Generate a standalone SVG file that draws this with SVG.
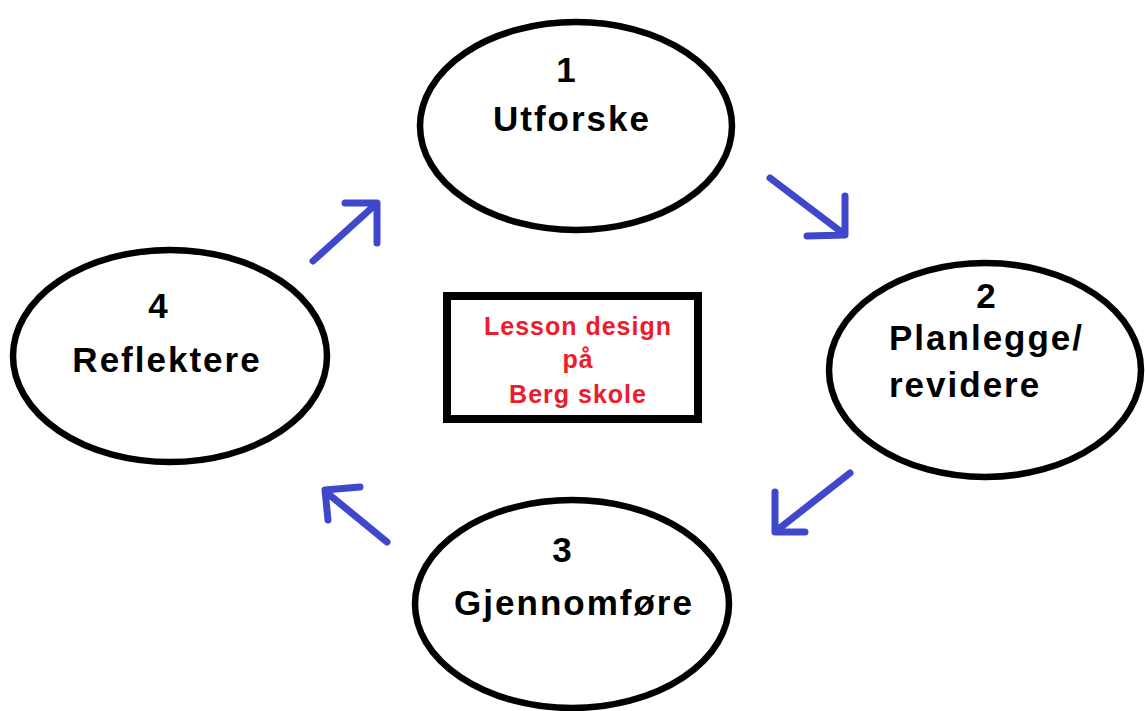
<svg xmlns="http://www.w3.org/2000/svg" width="1145" height="711" viewBox="0 0 1145 711">
<style>
.node{fill:#fff;stroke:#000;stroke-width:6.5}
.t{font-family:"Liberation Sans",Arial,sans-serif;font-weight:bold;font-size:35px;letter-spacing:2px;fill:#000}
.r{font-family:"Liberation Sans",Arial,sans-serif;font-weight:bold;font-size:25px;letter-spacing:1px;fill:#ec1c2c;text-anchor:middle}
.c{text-anchor:middle}
.a{fill:none;stroke:#3f48cc;stroke-width:7;stroke-linecap:round;stroke-linejoin:round}
</style>
<rect width="1145" height="711" fill="#fff"/>
<g id="node1">
<ellipse class="node" cx="576" cy="126" rx="156" ry="104"/>
<text class="t c" x="567" y="82">1</text>
<text class="t c" x="572" y="131">Utforske</text>
</g>
<g id="node2">
<ellipse class="node" cx="985" cy="370" rx="156" ry="107"/>
<text class="t c" x="987" y="308">2</text>
<text class="t" x="889" y="350">Planlegge/</text>
<text class="t" x="889" y="397">revidere</text>
</g>
<g id="node3">
<ellipse class="node" cx="572" cy="604" rx="157" ry="104"/>
<text class="t c" x="563" y="562">3</text>
<text class="t c" x="574" y="615">Gjennomføre</text>
</g>
<g id="node4">
<ellipse class="node" cx="170" cy="356" rx="157" ry="106"/>
<text class="t c" x="159" y="318">4</text>
<text class="t c" x="167" y="372">Reflektere</text>
</g>
<g id="center">
<rect x="447" y="296" width="251" height="123" fill="#fff" stroke="#000" stroke-width="8"/>
<text class="r" x="578" y="335">Lesson design</text>
<text class="r" x="578" y="368">på</text>
<text class="r" x="578" y="403">Berg skole</text>
</g>
<g id="connectors">
<path class="a" d="M770 178 L844 234 M845 196 L845 235 L807 236"/>
<path class="a" d="M313 261 L376 204 M345 203 L377 203 L377 243"/>
<path class="a" d="M850 473 L776 531 M775 492 L775 532 L805 532"/>
<path class="a" d="M387 542 L326 492 M360 487 L325 490 L328 520"/>
</g>
</svg>
